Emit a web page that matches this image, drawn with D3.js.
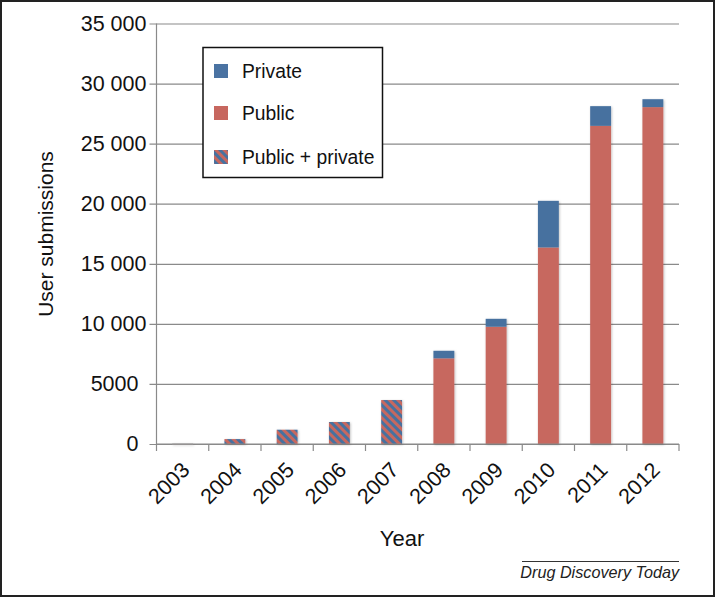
<!DOCTYPE html>
<html>
<head>
<meta charset="utf-8">
<script src="https://cdn.jsdelivr.net/npm/d3@7"></script>
<style>
  html, body { margin: 0; padding: 0; background: #fff; }
  svg { display: block; font-family: "Liberation Sans", Arial, Helvetica, sans-serif; }
</style>
</head>
<body>
<svg id="chart" width="716" height="598"></svg>
<script>
// ── Data ─────────────────────────────────────────────────────────────────────
const years        = ['2003', '2004', '2005', '2006', '2007', '2008', '2009', '2010', '2011', '2012'];
const publicVals   = [0, 0, 0, 0, 0, 7130, 9760, 16360, 26480, 28040];
const privateVals  = [0, 0, 0, 0, 0, 630, 660, 3880, 1640, 660];
const mixedVals    = [40, 410, 1190, 1830, 3660, 0, 0, 0, 0, 0];   // public + private
const yTicks       = [0, 5000, 10000, 15000, 20000, 25000, 30000, 35000];
const legendItems  = ['Private', 'Public', 'Public + private'];

const BLUE = '#47719f';
const RED  = '#c7675f';
const GRID = '#8a8a8a';

const M = { top: 23.5, left: 156.5, right: 679, bottom: 444 };

const svg = d3.select('#chart');

// frame
svg.append('rect')
  .attr('x', 1).attr('y', 1).attr('width', 713).attr('height', 595)
  .attr('fill', 'none').attr('stroke', '#222').attr('stroke-width', 2);

// ── Defs: stripe pattern + soft shadow ───────────────────────────────────────
const defs = svg.append('defs');
const pat = defs.append('pattern')
  .attr('id', 'stripes')
  .attr('patternUnits', 'userSpaceOnUse')
  .attr('width', 6).attr('height', 6)
  .attr('patternTransform', 'rotate(-45)');
pat.append('rect').attr('width', 6).attr('height', 6).attr('fill', RED);
pat.append('rect').attr('width', 3).attr('height', 6).attr('fill', BLUE);

const flt = defs.append('filter').attr('id', 'shadow')
  .attr('x', '-20%').attr('y', '-5%').attr('width', '150%').attr('height', '115%');
flt.append('feDropShadow')
  .attr('dx', 0.8).attr('dy', 0.8).attr('stdDeviation', 0.9)
  .attr('flood-color', '#000').attr('flood-opacity', 0.25);

// ── Scales ───────────────────────────────────────────────────────────────────
const x = d3.scaleBand().domain(years).range([M.left, M.right]).paddingInner(0.6).paddingOuter(0.3);
const xEdge = d3.scaleBand().domain(years).range([M.left, M.right]);
const y = d3.scaleLinear().domain([0, 35000]).range([M.bottom, M.top]);

// "35 000" style, but four-digit values stay unspaced
const fmt = v => v >= 10000 ? d3.format(',')(v).replace(',', ' ') : String(v);

// ── Gridlines + y axis ───────────────────────────────────────────────────────
const yAxis = d3.axisLeft(y).tickValues(yTicks).tickSize(-(M.right - M.left)).tickFormat(fmt).tickPadding(10);
const yG = svg.append('g').attr('transform', `translate(${M.left},0)`).call(yAxis);
yG.select('.domain').remove();
yG.selectAll('.tick line').attr('stroke', GRID).attr('stroke-width', 1.2).attr('x1', -7);
yG.selectAll('.tick text')
  .attr('font-size', 21.5).attr('fill', '#111')
  .attr('x', d => d >= 10000 ? -10 : -18);

// left spine
svg.append('line')
  .attr('x1', M.left).attr('x2', M.left).attr('y1', M.top).attr('y2', M.bottom + 7)
  .attr('stroke', GRID).attr('stroke-width', 1.2);

// x ticks at band edges
const edges = years.map(d => xEdge(d)).concat([M.right]);
svg.append('g').selectAll('line').data(edges.slice(1)).join('line')
  .attr('x1', d => d).attr('x2', d => d)
  .attr('y1', M.bottom).attr('y2', M.bottom + 7)
  .attr('stroke', GRID).attr('stroke-width', 1.2);

// ── Bars ─────────────────────────────────────────────────────────────────────
const rows = years.map((yr, i) => ({
  yr, pub: publicVals[i], priv: privateVals[i], mix: mixedVals[i]
}));

const bars = svg.append('g').attr('filter', 'url(#shadow)');
bars.selectAll('rect.mix').data(rows.filter(d => d.mix > 0)).join('rect')
  .attr('class', 'mix')
  .attr('x', d => x(d.yr)).attr('width', x.bandwidth())
  .attr('y', d => y(d.mix)).attr('height', d => Math.max(1, y(0) - y(d.mix)))
  .attr('fill', d => d.mix < 200 ? '#b9b3b3' : 'url(#stripes)');
bars.selectAll('rect.pub').data(rows.filter(d => d.pub > 0)).join('rect')
  .attr('class', 'pub')
  .attr('x', d => x(d.yr)).attr('width', x.bandwidth())
  .attr('y', d => y(d.pub)).attr('height', d => y(0) - y(d.pub))
  .attr('fill', RED);
bars.selectAll('rect.priv').data(rows.filter(d => d.priv > 0)).join('rect')
  .attr('class', 'priv')
  .attr('x', d => x(d.yr)).attr('width', x.bandwidth())
  .attr('y', d => y(d.pub + d.priv)).attr('height', d => y(d.pub) - y(d.pub + d.priv))
  .attr('fill', BLUE);

// x baseline on top of bars
svg.append('line')
  .attr('x1', M.left).attr('x2', M.right).attr('y1', M.bottom).attr('y2', M.bottom)
  .attr('stroke', GRID).attr('stroke-width', 1.2);

// ── X tick labels (rotated) ──────────────────────────────────────────────────
svg.append('g').selectAll('text').data(years).join('text')
  .attr('transform', d => `translate(${xEdge(d) + xEdge.bandwidth() / 2 + 3},${M.bottom + 22}) rotate(-45)`)
  .attr('text-anchor', 'end')
  .attr('dy', '0.35em')
  .attr('font-size', 21.5).attr('fill', '#111')
  .text(d => d);

// ── Axis titles ──────────────────────────────────────────────────────────────
svg.append('text')
  .attr('transform', 'translate(53,234) rotate(-90)')
  .attr('text-anchor', 'middle')
  .attr('font-size', 21).attr('fill', '#111')
  .text('User submissions');

svg.append('text')
  .attr('x', 402).attr('y', 546)
  .attr('text-anchor', 'middle')
  .attr('font-size', 22).attr('fill', '#111')
  .text('Year');

// ── Legend ───────────────────────────────────────────────────────────────────
const lg = svg.append('g');
lg.append('rect')
  .attr('x', 203).attr('y', 47.5).attr('width', 179.5).attr('height', 130)
  .attr('fill', '#fff').attr('stroke', '#111').attr('stroke-width', 1.5);
const swatchFill = ['#4a73a2', RED, 'url(#stripes)'];
const legendY = [71, 113, 157];
legendItems.forEach((name, i) => {
  lg.append('rect')
    .attr('x', 214).attr('y', legendY[i] - 7).attr('width', 14).attr('height', 14)
    .attr('fill', swatchFill[i]);
  lg.append('text')
    .attr('x', 242).attr('y', legendY[i]).attr('dy', '0.35em')
    .attr('font-size', 19.3).attr('fill', '#111')
    .text(name);
});

// ── Source ───────────────────────────────────────────────────────────────────
svg.append('line')
  .attr('x1', 522).attr('x2', 679).attr('y1', 561.5).attr('y2', 561.5)
  .attr('stroke', '#333').attr('stroke-width', 1);
svg.append('text')
  .attr('x', 679).attr('y', 578)
  .attr('text-anchor', 'end')
  .attr('font-size', 16.2).attr('font-style', 'italic').attr('fill', '#222')
  .text('Drug Discovery Today');
</script>
</body>
</html>
